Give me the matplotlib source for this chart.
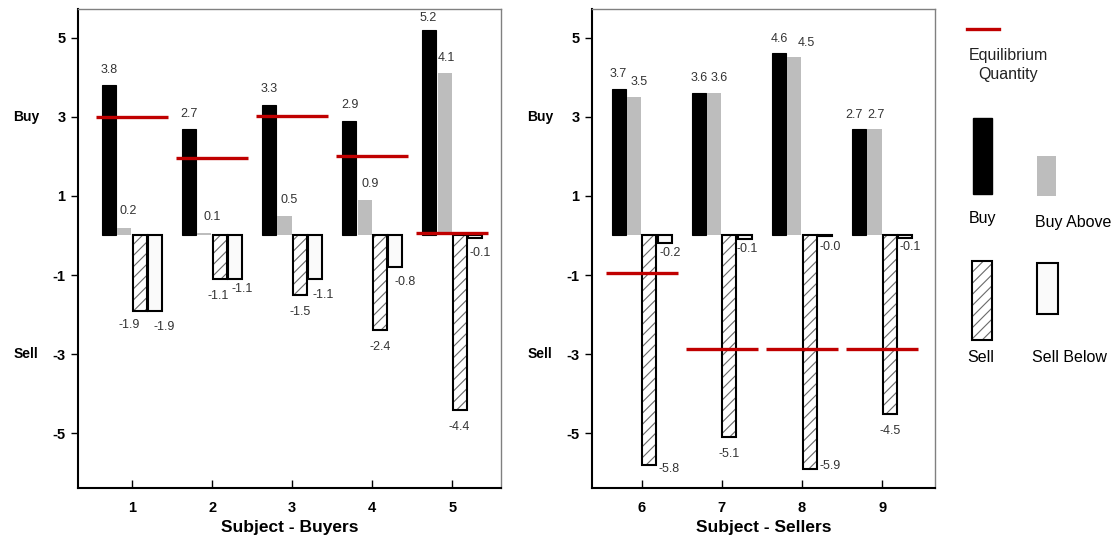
import matplotlib
matplotlib.use("Agg")
import matplotlib.pyplot as plt
from matplotlib.patches import Rectangle
from matplotlib.lines import Line2D

plt.rcParams['font.family'] = ['Liberation Sans', 'DejaVu Sans']
plt.rcParams['hatch.linewidth'] = 0.8
plt.rcParams['hatch.color'] = '#6a6a6a'

# ---------------- data ----------------
buyers = [1, 2, 3, 4, 5]
buyers_buy = [3.8, 2.7, 3.3, 2.9, 5.2]
buyers_buy_above = [0.2, 0.06, 0.5, 0.9, 4.1]
buyers_sell = [-1.9, -1.1, -1.5, -2.4, -4.4]
buyers_sell_below = [-1.9, -1.1, -1.1, -0.8, -0.07]
buyers_equilibrium = [3.0, 1.95, 3.02, 2.0, 0.05]

sellers = [6, 7, 8, 9]
sellers_buy = [3.7, 3.6, 4.6, 2.7]
sellers_buy_above = [3.5, 3.6, 4.5, 2.7]
sellers_sell = [-5.8, -5.1, -5.9, -4.5]
sellers_sell_below = [-0.18, -0.08, -0.02, -0.07]
sellers_equilibrium = [-0.96, -2.88, -2.88, -2.87]

yticks = [5, 3, 1, -1, -3, -5]

# label offsets in pixels (style only)
off_L = {
    'buy':   [(0, 15), (0, 15), (0, 16), (1, 16), (-1, 12)],
    'above': [(4, 17), (8, 16), (5, 16), (6, 16), (2, 15)],
    'sell':  [(-10, -14), (-1, -17), (0, -17), (0, -17), (-1, -17)],
    'below': [(9, -16), (7, -10), (8, -16), (10, -15), (5, -15)],
}
off_R = {
    'buy':   [(-1, 15), (0, 15), (0, 14), (-5, 14)],
    'above': [(5, 15), (5, 15), (12, 14), (2, 14)],
    'sell':  [(20, -4), (0, -17), (21, 3), (0, -17)],
    'below': [(6, -10), (3, -10), (5, -11), (5, -9)],
}

RED = '#c00000'
GRAY = '#bdbdbd'
WHITE = '#fafafa'
LBL = '#333333'
W = 0.175
STEP = 0.19
HATCH = '///'

fig = plt.figure(figsize=(11.15, 5.37), dpi=100)
axL = fig.add_axes([78/1115, 49/537, 423/1115, 479/537])
axR = fig.add_axes([592/1115, 49/537, 343/1115, 479/537])


def panel(ax, xs, buy, above, sell, below, eq, offs, xlim, xlabel):
    xb = [x - 1.5*STEP for x in xs]
    xa = [x - 0.5*STEP for x in xs]
    xsl = [x + 0.5*STEP for x in xs]
    xbl = [x + 1.5*STEP for x in xs]
    ax.bar(xb, buy, width=W, color='black', edgecolor='black', linewidth=0.8, zorder=2)
    ax.bar(xa, above, width=W, color=GRAY, edgecolor='none', zorder=2)
    ax.bar(xsl, sell, width=W, color='white', edgecolor='#6a6a6a', hatch=HATCH,
           linewidth=0, zorder=2)
    ax.bar(xsl, sell, width=W, fill=False, edgecolor='black', linewidth=1.5, zorder=3)
    ax.bar(xbl, below, width=W, color=WHITE, edgecolor='black', linewidth=1.5, zorder=3)
    ax.hlines(eq, [x - 0.45 for x in xs], [x + 0.45 for x in xs],
              colors=RED, linewidth=2.4, zorder=4)
    for series, xpos, key in ((buy, xb, 'buy'), (above, xa, 'above'),
                              (sell, xsl, 'sell'), (below, xbl, 'below')):
        for v, x, o in zip(series, xpos, offs[key]):
            ax.annotate(f"{v:.1f}", xy=(x, v), xytext=o, textcoords='offset pixels',
                        ha='center', va='center', fontsize=9, color=LBL, zorder=5)
    ax.set_xlim(*xlim)
    ax.set_ylim(-6.38, 5.72)
    ax.set_xticks(xs)
    ax.set_xticklabels([str(x) for x in xs])
    ax.set_yticks(yticks)
    ax.set_yticklabels([str(t) for t in yticks])
    ax.tick_params(axis='y', direction='out', length=5, width=1, pad=4,
                   labelsize=10.5, colors='black')
    ax.tick_params(axis='x', direction='in', length=6, width=1, pad=9,
                   labelsize=10.5)
    for lab in ax.get_xticklabels() + ax.get_yticklabels():
        lab.set_fontweight('bold')
    for s in ('left', 'bottom'):
        ax.spines[s].set_color('black')
        ax.spines[s].set_linewidth(1.5)
    for s in ('top', 'right'):
        ax.spines[s].set_color('#808080')
        ax.spines[s].set_linewidth(1.0)
    ax.set_xlabel(xlabel, fontsize=12.5, fontweight='bold', labelpad=4)
    for txt, yv in (('Buy', 3), ('Sell', -3)):
        ax.annotate(txt, xy=(0, yv), xycoords=('axes fraction', 'data'),
                    xytext=(-52, 0), textcoords='offset pixels', ha='center',
                    va='center', fontsize=10, fontweight='bold')


panel(axL, buyers, buyers_buy, buyers_buy_above, buyers_sell, buyers_sell_below,
      buyers_equilibrium, off_L, (0.325, 5.61), 'Subject - Buyers')
panel(axR, sellers, sellers_buy, sellers_buy_above, sellers_sell, sellers_sell_below,
      sellers_equilibrium, off_R, (5.38, 9.66), 'Subject - Sellers')

# ---------------- legend (pixel overlay) ----------------
lg = fig.add_axes([0, 0, 1, 1], facecolor='none')
lg.set_xlim(0, 1115)
lg.set_ylim(537, 0)
lg.axis('off')
lg.add_line(Line2D([967, 999], [29, 29], color=RED, linewidth=2.4))
lg.text(1008, 65, 'Equilibrium\nQuantity', ha='center', va='center',
        fontsize=11.5, linespacing=1.3, color='#222222')
lg.add_patch(Rectangle((973, 118), 19, 76, facecolor='black', edgecolor='black'))
lg.add_patch(Rectangle((1037, 156), 19, 40, facecolor=GRAY, edgecolor='none'))
lg.add_patch(Rectangle((972, 261), 20, 79, facecolor='white', edgecolor='#6a6a6a',
                       hatch=HATCH, linewidth=0))
lg.add_patch(Rectangle((972, 261), 20, 79, fill=False, edgecolor='black', linewidth=1.5))
lg.add_patch(Rectangle((1037, 263), 21, 51, facecolor=WHITE, edgecolor='black',
                       linewidth=1.5))
lg.text(983, 219, 'Buy', ha='center', va='center', fontsize=11.5)
lg.text(1073, 222, 'Buy Above', ha='center', va='center', fontsize=11.5)
lg.text(981, 358, 'Sell', ha='center', va='center', fontsize=11.5)
lg.text(1069, 357, 'Sell Below', ha='center', va='center', fontsize=11.5)

fig.savefig('out.png', dpi=100)
